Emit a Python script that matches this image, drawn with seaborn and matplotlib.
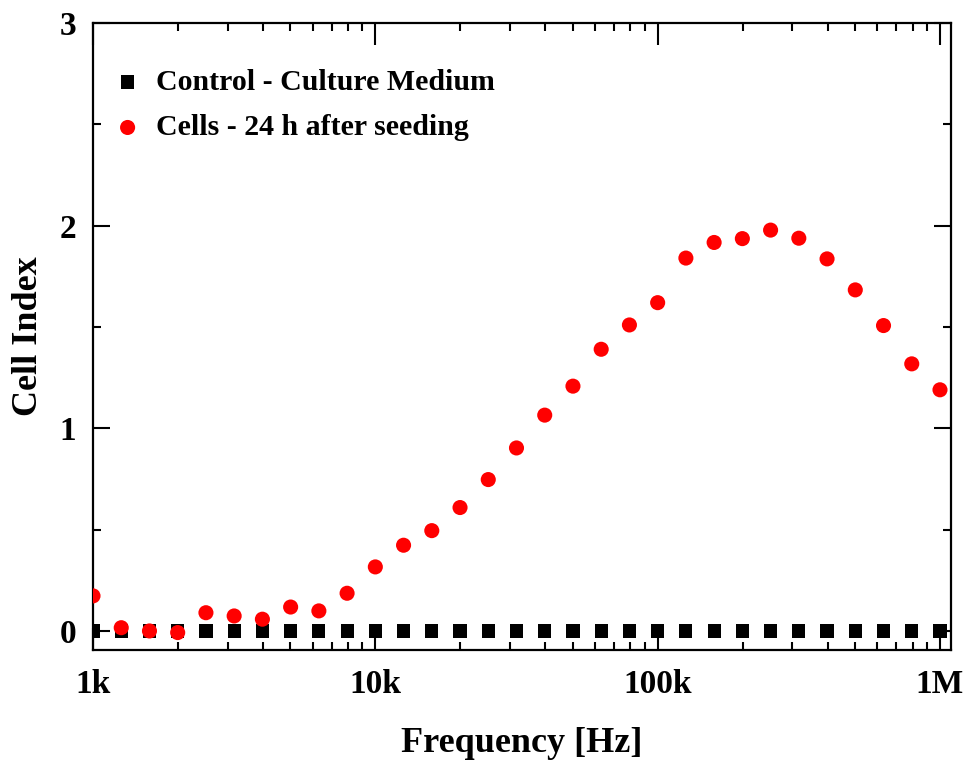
import numpy as np
import pandas as pd
import matplotlib
matplotlib.use("Agg")
import matplotlib.pyplot as plt
import seaborn as sns
from matplotlib.ticker import FixedLocator, FixedFormatter, LogLocator, MultipleLocator, NullFormatter

# ---- data ----
frequency_hz = [1000, 1259, 1585, 1995, 2512, 3162, 3981, 5012, 6310, 7943,
                10000, 12589, 15849, 19953, 25119, 31623, 39811, 50119, 63096, 79433,
                100000, 125893, 158489, 199526, 251189, 316228, 398107, 501187, 630957, 794328,
                1000000]
control_medium = [0.0] * 31
cells_24h = [0.173, 0.016, 0.0, -0.008, 0.09, 0.074, 0.058, 0.118, 0.099, 0.186,
             0.316, 0.423, 0.495, 0.609, 0.747, 0.903, 1.065, 1.208, 1.39, 1.51,
             1.62, 1.84, 1.917, 1.936, 1.978, 1.938, 1.836, 1.683, 1.507, 1.318,
             1.19]
series_names = ["Control - Culture Medium", "Cells - 24 h after seeding"]
x_tick_values = [1e3, 1e4, 1e5, 1e6]
x_tick_labels = ["1k", "10k", "100k", "1M"]
y_tick_values = [0, 1, 2, 3]

sns.set_theme(style="ticks")
plt.rcParams["font.family"] = ["Liberation Serif", "DejaVu Serif"]
plt.rcParams["font.weight"] = "bold"
for key in ["text.color", "axes.labelcolor", "xtick.color", "ytick.color", "axes.edgecolor"]:
    plt.rcParams[key] = "black"

fig = plt.figure(figsize=(9.66, 7.63), dpi=100)
ax = fig.add_axes([93/966, 1 - 650/763, (951-93)/966, (650-23)/763])

df_ctrl = pd.DataFrame({"f": frequency_hz, "ci": control_medium})
df_cells = pd.DataFrame({"f": frequency_hz, "ci": cells_24h})

sns.scatterplot(data=df_ctrl, x="f", y="ci", marker="s", s=90, color="black",
                edgecolor="none", label=series_names[0], ax=ax, zorder=3)
sns.scatterplot(data=df_cells, x="f", y="ci", marker="o", s=118, color="#ff0000",
                edgecolor="none", label=series_names[1], ax=ax, zorder=4)

ax.set_xscale("log")
ax.set_xlim(1e3, 1.094e6)
ax.set_ylim(-0.094, 3.0)

ax.xaxis.set_major_locator(FixedLocator(x_tick_values))
ax.xaxis.set_major_formatter(FixedFormatter(x_tick_labels))
ax.xaxis.set_minor_locator(LogLocator(base=10, subs=np.arange(2, 10), numticks=20))
ax.xaxis.set_minor_formatter(NullFormatter())
ax.yaxis.set_major_locator(FixedLocator(y_tick_values))
ax.yaxis.set_minor_locator(MultipleLocator(0.5))

ax.tick_params(which="both", direction="in", top=True, right=True, width=1.5,
               color="black", labelcolor="black")
ax.tick_params(which="major", length=12, labelsize=24)
ax.tick_params(axis="y", which="major", pad=12)
ax.tick_params(axis="x", which="major", pad=14)
ax.tick_params(which="minor", length=6)
ax.tick_params(axis="x", which="major", length=16)

for sp in ax.spines.values():
    sp.set_linewidth(1.6)
    sp.set_color("black")
    sp.set_visible(True)

for lab in ax.get_xticklabels() + ax.get_yticklabels():
    lab.set_fontweight("bold")

ax.set_xlabel("Frequency [Hz]", fontsize=26, fontweight="bold", labelpad=19, color="black")
ax.set_ylabel("Cell Index", fontsize=26, fontweight="bold", labelpad=10.5, color="black")

leg = ax.legend(loc="upper left", bbox_to_anchor=(0.009, 0.946), frameon=False,
                prop={"family": "Liberation Serif", "weight": "bold", "size": 21.5},
                handlelength=1.0, handletextpad=0.45, labelspacing=0.62, borderaxespad=0)
for t in leg.get_texts():
    t.set_color("black")

fig.savefig("out.png", dpi=100)
